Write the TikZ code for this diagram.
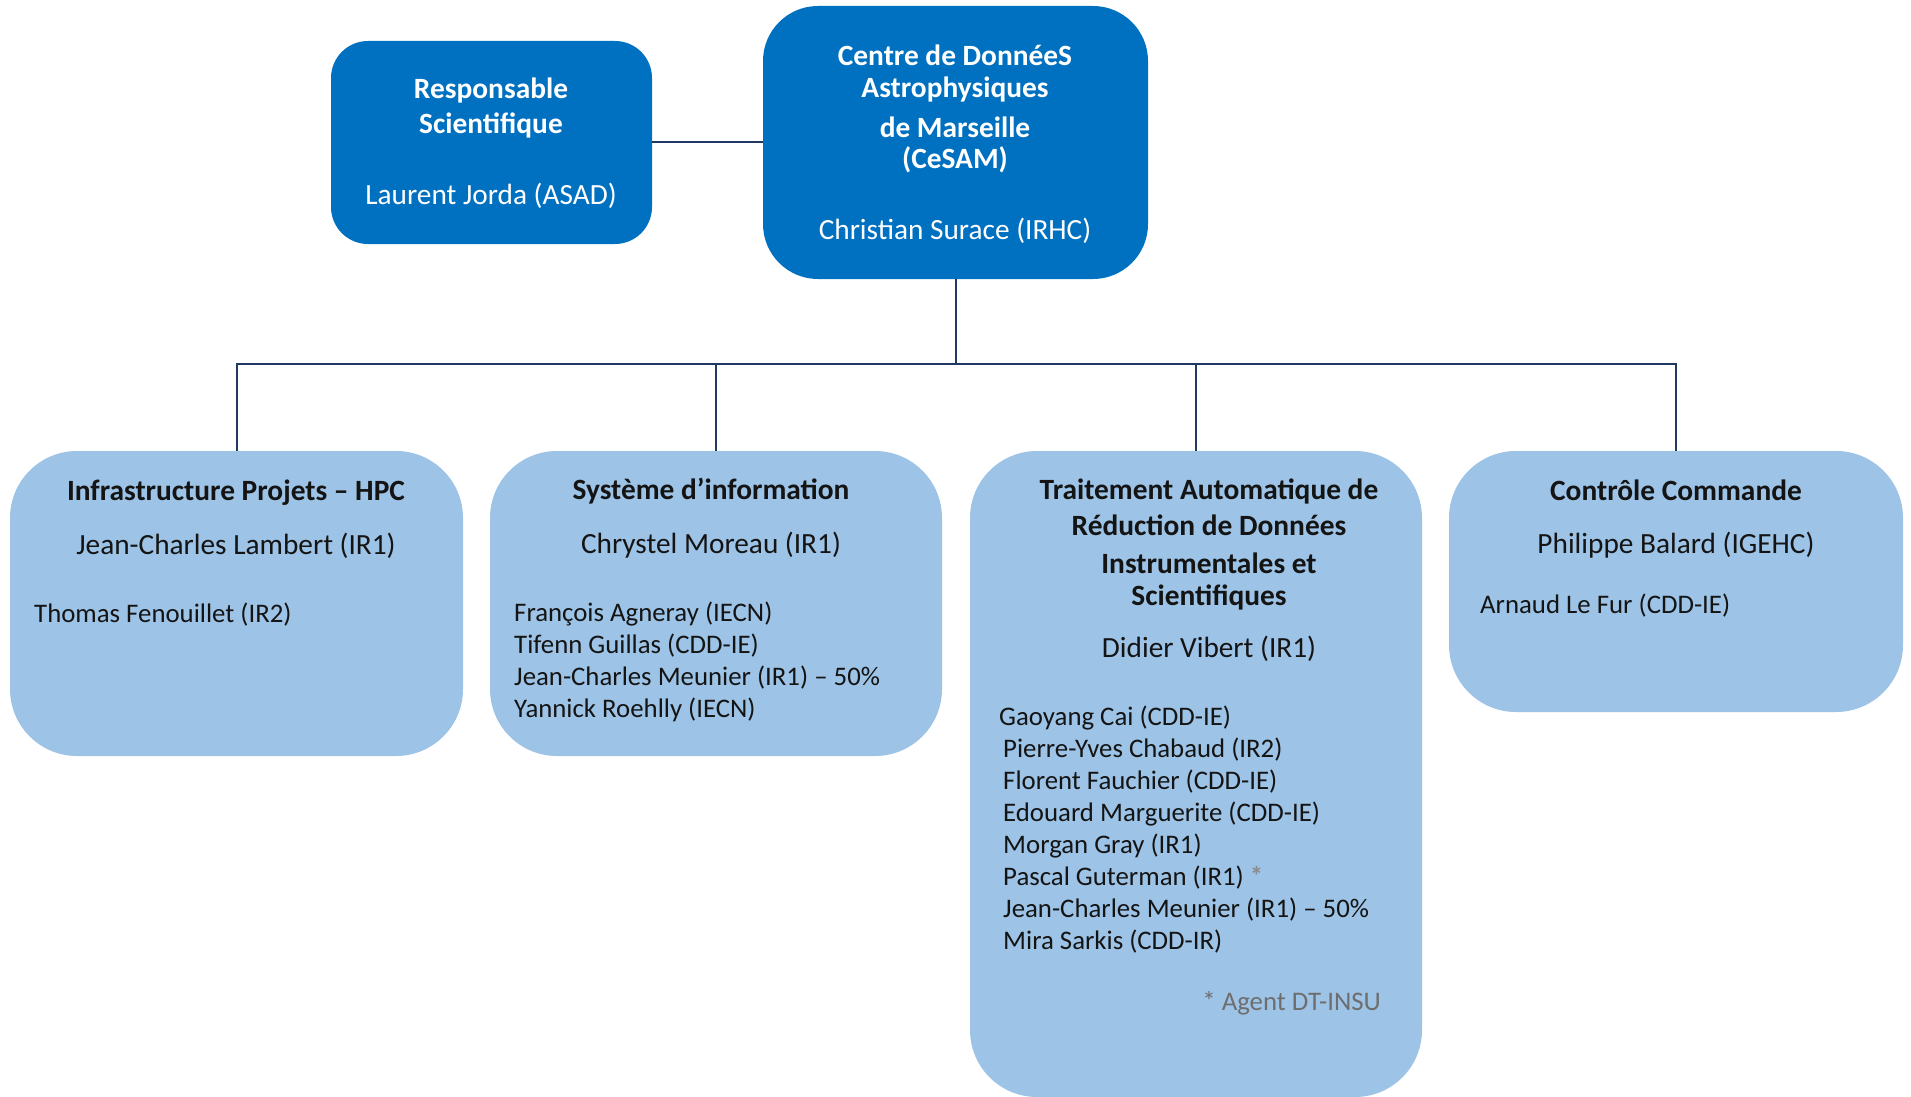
\documentclass[tikz,border=0pt]{standalone}
\usepackage{fontspec}
\setmainfont{Carlito}
\definecolor{darkfill}{HTML}{0070C0}
\definecolor{lightfill}{HTML}{9DC3E6}
\definecolor{linecol}{HTML}{1F3864}
\definecolor{txtcol}{HTML}{141414}
\definecolor{agentcol}{HTML}{6E6E6E}
\begin{document}
\begin{tikzpicture}[x=1pt,y=-1pt,
  topbox/.style={fill=darkfill, draw=none, inner sep=0pt},
  teambox/.style={fill=lightfill, draw=none, rounded corners=67pt, inner sep=0pt},
  conn/.style={draw=linecol, line width=2pt},
  wtitle/.style={text=white, font=\fontsize{29.4}{32}\selectfont\bfseries, inner sep=0pt, anchor=center},
  wname/.style={text=white, font=\fontsize{29.3}{32}\selectfont, inner sep=0pt, anchor=center},
  btitle/.style={text=txtcol, font=\fontsize{29.4}{32}\selectfont\bfseries, inner sep=0pt, anchor=center},
  bname/.style={text=txtcol, font=\fontsize{29.3}{32}\selectfont, inner sep=0pt, anchor=center},
  blist/.style={text=txtcol, font=\fontsize{26.8}{32}\selectfont, inner sep=0pt, anchor=west},
]
\useasboundingbox (0,0) rectangle (1911,1097);

% top boxes
\node[topbox, rounded corners=37pt, minimum width=321pt, minimum height=203pt] (resp) at (491.5,142.5) {};
\node[topbox, rounded corners=55pt, minimum width=385pt, minimum height=273pt] (cesam) at (955.5,142.5) {};

% team boxes
\node[teambox, minimum width=453pt, minimum height=305pt] (b1) at (236.5,603.5) {};
\node[teambox, minimum width=452pt, minimum height=305pt] (b2) at (716,603.5) {};
\node[teambox, minimum width=452pt, minimum height=646pt] (b3) at (1196,774) {};
\node[teambox, minimum width=454pt, minimum height=261pt] (b4) at (1676,581.5) {};

% connectors
\coordinate (bus) at (955.5,364);
\draw[conn] (resp.east) -- (cesam.west);
\draw[conn] (cesam.south) -- (bus);
\draw[conn] (b1.north) |- (bus) -| (b4.north);
\draw[conn] (b2.north) -- (b2.north |- bus);
\draw[conn] (b3.north) -- (b3.north |- bus);

% Responsable text
\node[wtitle] (resp1) at (491,90) {Responsable};
\node[wtitle] (resp2) at (491,125) {Scientifique};
\node[wname] (resp3) at (491,196) {Laurent Jorda (ASAD)};

% CeSAM text
\node[wtitle] (ces1) at (955,55) {Centre de DonnéeS};
\node[wtitle] (ces2) at (955,89) {Astrophysiques};
\node[wtitle] (ces3) at (955,127) {de Marseille};
\node[wtitle] (ces4) at (955,160) {(CeSAM)};
\node[wname] (ces5) at (955,231) {Christian Surace (IRHC)};

% Box 1
\node[btitle] (b1t) at (236,493) {Infrastructure Projets – HPC};
\node[bname] (b1n) at (236,546) {Jean-Charles Lambert (IR1)};
\node[blist] (b1l1) at (34,615) {Thomas Fenouillet (IR2)};

% Box 2
\node[btitle] (b2t) at (711,491) {Système d’information};
\node[bname] (b2n) at (711,545) {Chrystel Moreau (IR1)};
\node[blist] (b2l1) at (514,614) {François Agneray (IECN)};
\node[blist] (b2l2) at (514,646) {Tifenn Guillas (CDD-IE)};
\node[blist] (b2l3) at (514,678) {Jean-Charles Meunier (IR1) – 50\%};
\node[blist] (b2l4) at (514,710) {Yannick Roehlly (IECN)};

% Box 3
\node[btitle] (b3t1) at (1209,491) {Traitement Automatique de};
\node[btitle] (b3t2) at (1209,525) {Réduction de Données};
\node[btitle] (b3t3) at (1209,563) {Instrumentales et};
\node[btitle] (b3t4) at (1209,597) {Scientifiques};
\node[bname] (b3n) at (1209,649) {Didier Vibert (IR1)};
\node[blist] (b3l1) at (999,718) {Gaoyang Cai (CDD-IE)};
\node[blist] (b3l2) at (1003,750) {Pierre-Yves Chabaud (IR2)};
\node[blist] (b3l3) at (1003,782) {Florent Fauchier (CDD-IE)};
\node[blist] (b3l4) at (1003,814) {Edouard Marguerite (CDD-IE)};
\node[blist] (b3l5) at (1003,846) {Morgan Gray (IR1)};
\node[blist] (b3l6) at (1003,878) {Pascal Guterman (IR1) \textcolor{agentcol!80}{\bfseries *}};
\node[blist] (b3l7) at (1003,910) {Jean-Charles Meunier (IR1) – 50\%};
\node[blist] (b3l8) at (1003,942) {Mira Sarkis (CDD-IR)};
\node[blist, anchor=east, text=agentcol] (b3a) at (1381,1003) {* Agent DT-INSU};

% Box 4
\node[btitle] (b4t) at (1676,490) {Contrôle Commande};
\node[bname] (b4n) at (1676,545) {Philippe Balard (IGEHC)};
\node[blist] (b4l1) at (1480,606) {Arnaud Le Fur (CDD-IE)};
\end{tikzpicture}
\end{document}
